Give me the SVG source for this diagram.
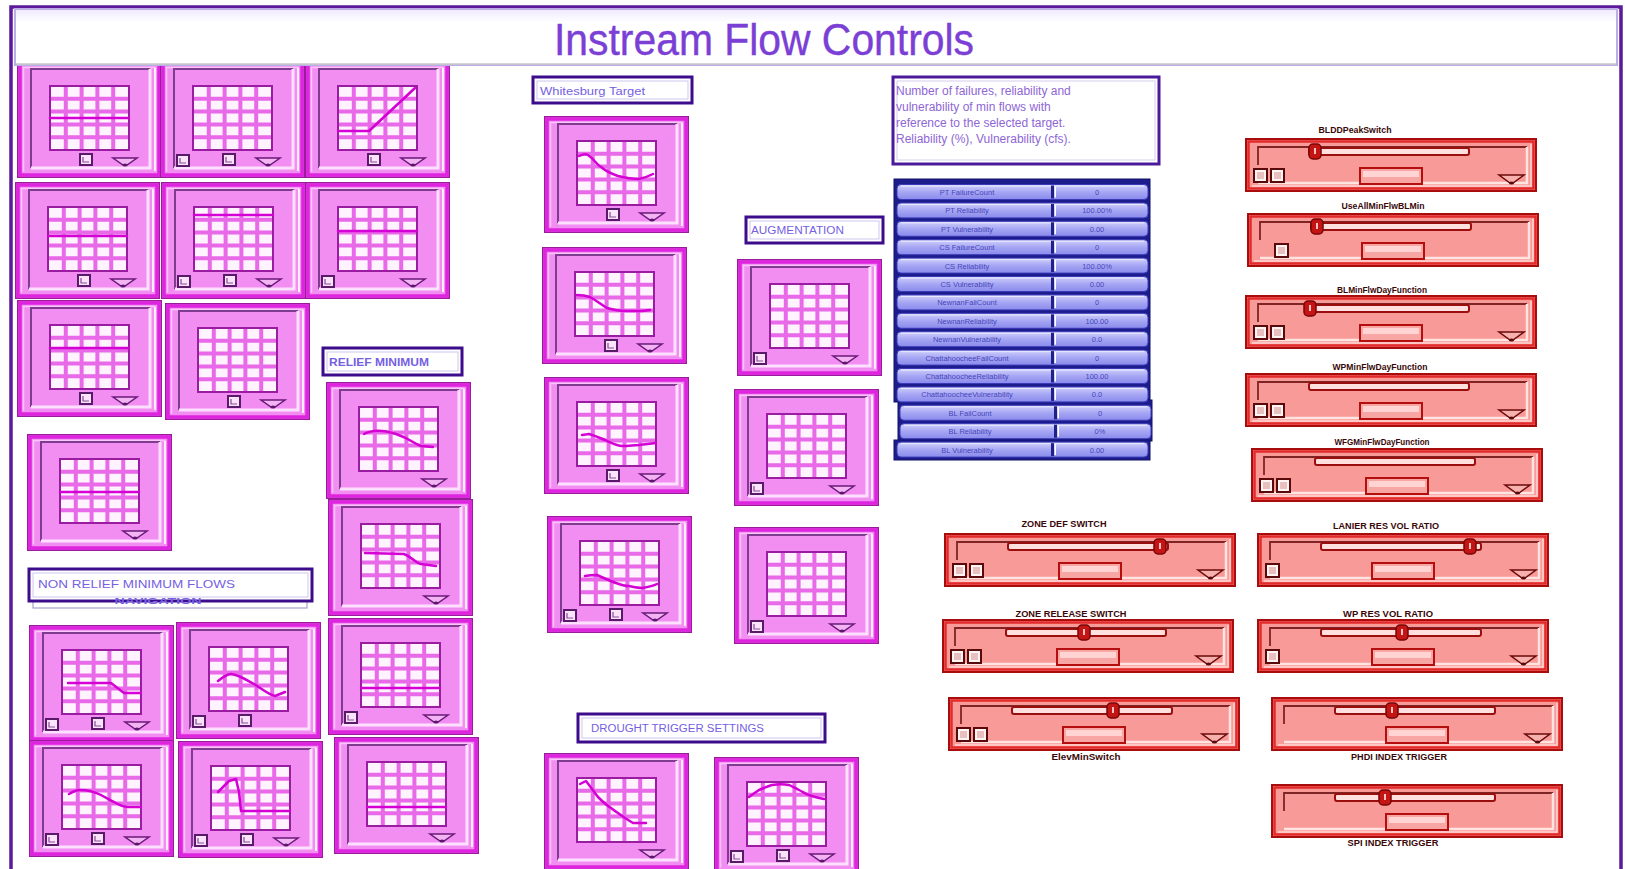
<svg xmlns="http://www.w3.org/2000/svg" xmlns:xlink="http://www.w3.org/1999/xlink" width="1625" height="869" viewBox="0 0 1625 869">
<style>
  .pl { fill: none; stroke: #d400d4; stroke-width: 2.5; stroke-linejoin: round; stroke-linecap: round; }
  .lbox { fill: #ffffff; stroke: #3c0c8c; stroke-width: 3; }
  .lin { fill: none; stroke: #cfc6ec; stroke-width: 1; }
  .ltxt { font-family: "Liberation Sans", Arial, sans-serif; fill: #7560e2; }
  .note { font-family: "Liberation Sans", Arial, sans-serif; font-size: 12px; fill: #8e66d6; }
  .rtxt { font-family: "Liberation Sans", Arial, sans-serif; font-size: 7.5px; fill: #2a2aa8; fill-opacity: 0.8; text-anchor: middle; }
  .slbl { font-family: "Liberation Sans", Arial, sans-serif; font-size: 9px; font-weight: bold; fill: #3a0808; text-anchor: middle; }
</style>
<defs>
  <linearGradient id="rowg" x1="0" y1="0" x2="0" y2="1">
    <stop offset="0" stop-color="#d2d2fc"/>
    <stop offset="0.5" stop-color="#a6a6f4"/>
    <stop offset="1" stop-color="#8a8aec"/>
  </linearGradient>
  <linearGradient id="titleg" x1="0" y1="0" x2="0" y2="1">
    <stop offset="0" stop-color="#efeaff"/>
    <stop offset="0.25" stop-color="#ffffff"/>
    <stop offset="1" stop-color="#ffffff"/>
  </linearGradient>

  <!-- pink chart control: frame and 5x5 grid -->
  <g id="gw">
    <rect x="0.75" y="0.75" width="143.5" height="115.5" fill="#f28ef2" stroke="#9a1c9a" stroke-width="1.5"/>
    <rect x="3" y="3" width="139" height="111" fill="none" stroke="#de24de" stroke-width="3.5"/>
    <path d="M6.5,110.5 V6.5 H138.5" fill="none" stroke="#fbc4fb" stroke-width="1.5"/>
    <path d="M14,107 V8 H133" fill="none" stroke="#7e3c8e" stroke-width="2"/>
    <path d="M133,8 V107 H14" fill="none" stroke="#fde0fd" stroke-width="3"/>
    <path d="M138,7 V110" fill="none" stroke="#ffeeff" stroke-width="2"/>
    <rect x="33" y="25" width="79" height="64" fill="#fff3ff"/>
    <path d="M48.8,25 V89 M64.6,25 V89 M80.4,25 V89 M96.2,25 V89 M33,37.8 H112 M33,50.6 H112 M33,63.4 H112 M33,76.2 H112" fill="none" stroke="#e86ae8" stroke-width="4"/>
    <rect x="33" y="25" width="79" height="64" fill="none" stroke="#9a1ca0" stroke-width="2"/>
  </g>
  <!-- small push button of a chart control -->
  <g id="pb">
    <rect x="0" y="0" width="12" height="11" fill="#fbe4fb" stroke="#5a1a6a" stroke-width="2"/>
    <path d="M3,3 V8 H9" fill="none" stroke="#8a4a9a" stroke-width="1.2"/>
  </g>
  <!-- drop-down arrow of a chart control -->
  <g id="pt">
    <polygon points="96,97 120,97 110,104 106,104" fill="#f4b4f4" stroke="#6a1a7a" stroke-width="1.5"/>
    <ellipse cx="108" cy="104" rx="2.5" ry="1.5" fill="#5a1a6a"/>
  </g>
  <use id="bl" xlink:href="#pb" href="#pb" transform="translate(17,94)"/>
  <use id="bm" xlink:href="#pb" href="#pb" transform="translate(63,93)"/>

  <!-- red slider control -->
  <g id="sl">
    <rect x="1" y="1" width="290" height="52" fill="#f89a98" stroke="#a80c0c" stroke-width="2"/>
    <rect x="3.5" y="3.5" width="285" height="47" fill="none" stroke="#e22a2a" stroke-width="2.5"/>
    <path d="M7,48 H286 V6" fill="none" stroke="#ffd6d4" stroke-width="1.5"/>
    <path d="M13,27 V9 H282" fill="none" stroke="#7e2424" stroke-width="1.8"/>
    <path d="M282,9 V45 H13" fill="none" stroke="#ffe4e2" stroke-width="2.5"/>
    <rect x="64" y="10" width="160" height="7" rx="2" fill="#ffe0de" stroke="#9a0e0e" stroke-width="2"/>
    <rect x="115" y="30" width="62" height="16" fill="#f7a6a4" stroke="#b40e0e" stroke-width="2"/>
    <rect x="118" y="33" width="56" height="6" fill="#ffd4d2"/>
  </g>
  <g id="th">
    <rect x="-6" y="6" width="12" height="15" rx="4" fill="#c41414" stroke="#780606" stroke-width="1.5"/>
    <rect x="-1" y="10" width="2" height="6" fill="#ffc0c0"/>
  </g>
  <g id="sb">
    <rect x="0" y="0" width="13" height="13" fill="#fff4f4" stroke="#5a0a0a" stroke-width="2"/>
    <rect x="3" y="3" width="7" height="7" fill="#e8c0c0"/>
  </g>
  <g id="st">
    <polygon points="254,37 279,37 268,45 265,45" fill="#f6b0ae" stroke="#6a0a0a" stroke-width="1.5"/>
    <ellipse cx="266.5" cy="45" rx="2.5" ry="1.5" fill="#5a0a0a"/>
  </g>

  <!-- result table row -->
  <g id="row">
    <rect x="0" y="0" width="251" height="15" rx="4" fill="url(#rowg)" stroke="#3a3ab8" stroke-width="1"/>
    <path d="M4,1.6 H247" stroke="#ffffff" stroke-opacity="0.6" stroke-width="1"/>
    <rect x="154" y="1" width="3" height="13" fill="#20208a"/>
    <rect x="157.5" y="2" width="1.5" height="11" fill="#ffffff"/>
  </g>
</defs>

<rect x="0" y="0" width="1625" height="869" fill="#ffffff"/>

<!-- panel outline -->
<path id="panel" d="M11,869 V7 H1621 V869" fill="none" stroke="#5a1a9a" stroke-width="3.5"/>

<!-- chart controls -->
<g id="w1" transform="translate(17,61)"><use href="#gw"/><path class="pl" d="M33,57 H112"/><use href="#bm"/><use href="#pt"/></g>
<g id="w2" transform="translate(160,61)"><use href="#gw"/><use href="#bl"/><use href="#bm"/><use href="#pt"/></g>
<g id="w3" transform="translate(305,61)"><use href="#gw"/><path class="pl" d="M33,70 H64 L110,27"/><use href="#bm"/><use href="#pt"/></g>
<g id="w4" transform="translate(15,182)"><use href="#gw"/><path class="pl" d="M33,54 H112"/><use href="#bm"/><use href="#pt"/></g>
<g id="w5" transform="translate(161,182)"><use href="#gw"/><path class="pl" d="M33,33 H112"/><use href="#bl"/><use href="#bm"/><use href="#pt"/></g>
<g id="w6" transform="translate(305,182)"><use href="#gw"/><path class="pl" d="M33,49 H112"/><use href="#bl"/><use href="#pt"/></g>
<g id="w7" transform="translate(17,300)"><use href="#gw"/><path class="pl" d="M33,48 H112"/><use href="#bm"/><use href="#pt"/></g>
<g id="w8" transform="translate(165,303)"><use href="#gw"/><use href="#bm"/><use href="#pt"/></g>
<g id="w9" transform="translate(326,382)"><use href="#gw"/><path class="pl" d="M38,52 C45,48 55,47 70,52 S88,62 95,64 L107,65"/><use href="#pt"/></g>
<g id="w10" transform="translate(27,434)"><use href="#gw"/><path class="pl" d="M33,58 H112"/><use href="#pt"/></g>
<g id="w11" transform="translate(328,499)"><use href="#gw"/><path class="pl" d="M37,54 L76,55 C84,58 88,64 93,65 L108,67"/><use href="#pt"/></g>
<g id="w12" transform="translate(29,625)"><use href="#gw"/><path class="pl" d="M39,58 H82 L95,68 H112"/><use href="#bl"/><use href="#bm"/><use href="#pt"/></g>
<g id="w13" transform="translate(176,622)"><use href="#gw"/><path class="pl" d="M42,59 C47,55 51,52 55,52 C64,53 70,58 78,62 C86,67 93,73 99,74 L109,70"/><use href="#bl"/><use href="#bm"/></g>
<g id="w14" transform="translate(328,618)"><use href="#gw"/><path class="pl" d="M33,70 H112"/><use href="#bl"/><use href="#pt"/></g>
<g id="w15" transform="translate(29,740)"><use href="#gw"/><path class="pl" d="M40,54 C45,51 48,50 51,50 C60,50 66,52 72,55 C78,58 82,61 85,62 C90,65 95,67 99,67 H112"/><use href="#bl"/><use href="#bm"/><use href="#pt"/></g>
<g id="w16" transform="translate(178,741)"><use href="#gw"/><path class="pl" d="M40,51 L51,40 L58,38 L61,51 L63,70 H112"/><use href="#bl"/><use href="#bm"/><use href="#pt"/></g>
<g id="w17" transform="translate(334,737)"><use href="#gw"/><path class="pl" d="M33,70 H112"/><use href="#pt"/></g>
<g id="w18" transform="translate(544,116)"><use href="#gw"/><path class="pl" d="M35,40 C39,38 42,38 44,39 C50,43 52,48 57,51 C63,56 68,58 74,60 C82,62 90,63 95,63 C100,62 105,60 109,58"/><use href="#bm"/><use href="#pt"/></g>
<g id="w19" transform="translate(542,247)"><use href="#gw"/><path class="pl" d="M35,48 C42,48 45,49 48,50 C55,54 60,58 65,61 C72,63 78,64 84,64 H100 L108,63"/><use href="#bm"/><use href="#pt"/></g>
<g id="w20" transform="translate(737,259)"><use href="#gw"/><use href="#bl"/><use href="#pt"/></g>
<g id="w21" transform="translate(544,377)"><use href="#gw"/><path class="pl" d="M38,58 L45,57 C52,59 56,61 61,63 C68,66 73,69 78,69 C85,69 90,68 95,68 L112,66"/><use href="#bm"/><use href="#pt"/></g>
<g id="w22" transform="translate(734,389)"><use href="#gw"/><use href="#bl"/><use href="#pt"/></g>
<g id="w23" transform="translate(547,516)"><use href="#gw"/><path class="pl" d="M38,60 C43,59 46,59 50,59 C57,62 63,65 69,67 C74,69 78,70 82,70 C87,71 91,72 95,72 C101,71 106,70 110,68"/><use href="#bl"/><use href="#bm"/><use href="#pt"/></g>
<g id="w24" transform="translate(734,527)"><use href="#gw"/><use href="#bl"/><use href="#pt"/></g>
<g id="w25" transform="translate(544,753)"><use href="#gw"/><path class="pl" d="M36,31 L42,28 C46,33 50,39 54,44 C58,48 62,52 67,55 C72,59 77,62 81,65 L89,70 H102"/><use href="#pt"/></g>
<g id="w26" transform="translate(714,757)"><use href="#gw"/><path class="pl" d="M35,40 C39,37 42,35 45,33 C50,31 54,29 58,28 C64,27 70,27 75,28 C79,30 82,31 85,33 C89,35 92,37 95,38 C100,40 105,41 110,42"/><use href="#bl"/><use href="#bm"/><use href="#pt"/></g>

<!-- heading bar -->
<g id="title">
  <rect x="15" y="9" width="1602" height="56" fill="url(#titleg)" stroke="#bcaee4" stroke-width="2"/>
  <path d="M16,64 H1616" stroke="#c8c8cc" stroke-width="1.5"/>
  <text x="554" y="55" font-family="'Liberation Sans', Arial, sans-serif" font-size="44" fill="#7b3fd6" stroke="#7b3fd6" stroke-width="0.4" textLength="420" lengthAdjust="spacingAndGlyphs">Instream Flow Controls</text>
</g>

<!-- section labels -->
<g id="lbl-whitesburg">
  <rect class="lbox" x="533" y="77" width="159" height="26"/>
  <rect class="lin" x="537" y="81" width="151" height="18"/>
  <text class="ltxt" x="540" y="95" font-size="11" textLength="105" lengthAdjust="spacingAndGlyphs">Whitesburg Target</text>
</g>
<g id="lbl-augmentation">
  <rect class="lbox" x="746" y="217" width="137" height="26"/>
  <rect class="lin" x="750" y="221" width="129" height="18"/>
  <text class="ltxt" x="751" y="234" font-size="10" textLength="93" lengthAdjust="spacingAndGlyphs">AUGMENTATION</text>
</g>
<g id="lbl-relief">
  <rect class="lbox" x="323" y="348" width="139" height="27"/>
  <rect class="lin" x="327" y="352" width="131" height="19"/>
  <text class="ltxt" x="329" y="366" font-size="10" font-weight="bold" textLength="100" lengthAdjust="spacingAndGlyphs">RELIEF MINIMUM</text>
</g>
<g id="lbl-drought">
  <rect class="lbox" x="578" y="714" width="247" height="28"/>
  <rect class="lin" x="582" y="718" width="239" height="20"/>
  <text class="ltxt" x="591" y="732" font-size="10" textLength="173" lengthAdjust="spacingAndGlyphs">DROUGHT TRIGGER SETTINGS</text>
</g>
<g id="lbl-nonrelief">
  <rect x="33" y="573" width="274" height="35" fill="#ffffff" stroke="#a8a2c8" stroke-width="1.2"/>
  <rect class="lbox" x="29" y="569" width="283" height="32"/>
  <rect class="lin" x="33" y="573" width="275" height="24"/>
  <text class="ltxt" x="38" y="588" font-size="11" textLength="197" lengthAdjust="spacingAndGlyphs">NON RELIEF MINIMUM FLOWS</text>
  <text class="ltxt" x="158" y="604" font-size="9.5" font-weight="bold" fill="#5e46e0" text-anchor="middle" textLength="87" lengthAdjust="spacingAndGlyphs">NAVIGATION</text>
</g>

<!-- explanatory note -->
<g id="note">
  <rect x="893" y="77" width="266" height="87" fill="#ffffff" stroke="#4a1a9a" stroke-width="3"/>
  <rect x="897" y="81" width="258" height="79" fill="none" stroke="#d6ceee" stroke-width="1"/>
  <text class="note" x="896" y="95">Number of failures, reliability and</text>
  <text class="note" x="896" y="111">vulnerability of min flows with</text>
  <text class="note" x="896" y="127">reference to the selected target.</text>
  <text class="note" x="896" y="143">Reliability (%),  Vulnerability (cfs).</text>
</g>

<!-- failure / reliability / vulnerability table -->
<g id="table">
  <rect x="894" y="179" width="256" height="223" fill="#1c1c8c" stroke="#10106a" stroke-width="1"/>
  <rect x="898" y="400" width="254" height="41" fill="#1c1c8c" stroke="#10106a" stroke-width="1"/>
  <rect x="894" y="440" width="256" height="20" fill="#1c1c8c" stroke="#10106a" stroke-width="1"/>
  <g transform="translate(897,184.5)"><use href="#row"/><text class="rtxt" x="70" y="10.5">PT FailureCount</text><text class="rtxt" x="200" y="10.5">0</text></g>
  <g transform="translate(897,202.9)"><use href="#row"/><text class="rtxt" x="70" y="10.5">PT Reliability</text><text class="rtxt" x="200" y="10.5">100.00%</text></g>
  <g transform="translate(897,221.3)"><use href="#row"/><text class="rtxt" x="70" y="10.5">PT Vulnerability</text><text class="rtxt" x="200" y="10.5">0.00</text></g>
  <g transform="translate(897,239.7)"><use href="#row"/><text class="rtxt" x="70" y="10.5">CS FailureCount</text><text class="rtxt" x="200" y="10.5">0</text></g>
  <g transform="translate(897,258.1)"><use href="#row"/><text class="rtxt" x="70" y="10.5">CS Reliability</text><text class="rtxt" x="200" y="10.5">100.00%</text></g>
  <g transform="translate(897,276.5)"><use href="#row"/><text class="rtxt" x="70" y="10.5">CS Vulnerability</text><text class="rtxt" x="200" y="10.5">0.00</text></g>
  <g transform="translate(897,294.9)"><use href="#row"/><text class="rtxt" x="70" y="10.5">NewnanFailCount</text><text class="rtxt" x="200" y="10.5">0</text></g>
  <g transform="translate(897,313.3)"><use href="#row"/><text class="rtxt" x="70" y="10.5">NewnanReliability</text><text class="rtxt" x="200" y="10.5">100.00</text></g>
  <g transform="translate(897,331.7)"><use href="#row"/><text class="rtxt" x="70" y="10.5">NewnanVulnerability</text><text class="rtxt" x="200" y="10.5">0.0</text></g>
  <g transform="translate(897,350.1)"><use href="#row"/><text class="rtxt" x="70" y="10.5">ChattahoocheeFailCount</text><text class="rtxt" x="200" y="10.5">0</text></g>
  <g transform="translate(897,368.5)"><use href="#row"/><text class="rtxt" x="70" y="10.5">ChattahoocheeReliability</text><text class="rtxt" x="200" y="10.5">100.00</text></g>
  <g transform="translate(897,386.9)"><use href="#row"/><text class="rtxt" x="70" y="10.5">ChattahoocheeVulnerability</text><text class="rtxt" x="200" y="10.5">0.0</text></g>
  <g transform="translate(900,405.3)"><use href="#row"/><text class="rtxt" x="70" y="10.5">BL FailCount</text><text class="rtxt" x="200" y="10.5">0</text></g>
  <g transform="translate(900,423.7)"><use href="#row"/><text class="rtxt" x="70" y="10.5">BL Reliability</text><text class="rtxt" x="200" y="10.5">0%</text></g>
  <g transform="translate(897,442.1)"><use href="#row"/><text class="rtxt" x="70" y="10.5">BL Vulnerability</text><text class="rtxt" x="200" y="10.5">0.00</text></g>
</g>

<!-- slider controls -->
<g id="s1"><text class="slbl" x="1355" y="133" textLength="73" lengthAdjust="spacingAndGlyphs">BLDDPeakSwitch</text>
  <g transform="translate(1245,138)"><use href="#sl"/><use href="#th" transform="translate(70,0)"/><use href="#sb" transform="translate(9,31)"/><use href="#sb" transform="translate(26,31)"/><use href="#st"/></g></g>
<g id="s2"><text class="slbl" x="1383" y="209" textLength="83" lengthAdjust="spacingAndGlyphs">UseAllMinFlwBLMin</text>
  <g transform="translate(1247,213)"><use href="#sl"/><use href="#th" transform="translate(70,0)"/><use href="#sb" transform="translate(28,31)"/></g></g>
<g id="s3"><text class="slbl" x="1382" y="293" textLength="90" lengthAdjust="spacingAndGlyphs">BLMinFlwDayFunction</text>
  <g transform="translate(1245,295)"><use href="#sl"/><use href="#th" transform="translate(65,0)"/><use href="#sb" transform="translate(9,31)"/><use href="#sb" transform="translate(26,31)"/><use href="#st"/></g></g>
<g id="s4"><text class="slbl" x="1380" y="370" textLength="95" lengthAdjust="spacingAndGlyphs">WPMinFlwDayFunction</text>
  <g transform="translate(1245,373)"><use href="#sl"/><use href="#sb" transform="translate(9,31)"/><use href="#sb" transform="translate(26,31)"/><use href="#st"/></g></g>
<g id="s5"><text class="slbl" x="1382" y="445" textLength="95" lengthAdjust="spacingAndGlyphs">WFGMinFlwDayFunction</text>
  <g transform="translate(1251,448)"><use href="#sl"/><use href="#sb" transform="translate(9,31)"/><use href="#sb" transform="translate(26,31)"/><use href="#st"/></g></g>
<g id="s6"><text class="slbl" x="1064" y="527" textLength="85" lengthAdjust="spacingAndGlyphs">ZONE DEF SWITCH</text>
  <g transform="translate(944,533)"><use href="#sl"/><use href="#th" transform="translate(216,0)"/><use href="#sb" transform="translate(9,31)"/><use href="#sb" transform="translate(26,31)"/><use href="#st"/></g></g>
<g id="s7"><text class="slbl" x="1071" y="617" textLength="111" lengthAdjust="spacingAndGlyphs">ZONE RELEASE SWITCH</text>
  <g transform="translate(942,619)"><use href="#sl"/><use href="#th" transform="translate(142,0)"/><use href="#sb" transform="translate(9,31)"/><use href="#sb" transform="translate(26,31)"/><use href="#st"/></g></g>
<g id="s8">
  <g transform="translate(948,697)"><use href="#sl"/><use href="#th" transform="translate(165,0)"/><use href="#sb" transform="translate(9,31)"/><use href="#sb" transform="translate(26,31)"/><use href="#st"/></g>
  <text class="slbl" x="1086" y="760" textLength="69" lengthAdjust="spacingAndGlyphs">ElevMinSwitch</text></g>
<g id="s9"><text class="slbl" x="1386" y="529" textLength="106" lengthAdjust="spacingAndGlyphs">LANIER RES VOL RATIO</text>
  <g transform="translate(1257,533)"><use href="#sl"/><use href="#th" transform="translate(213,0)"/><use href="#sb" transform="translate(9,31)"/><use href="#st"/></g></g>
<g id="s10"><text class="slbl" x="1388" y="617" textLength="90" lengthAdjust="spacingAndGlyphs">WP RES VOL RATIO</text>
  <g transform="translate(1257,619)"><use href="#sl"/><use href="#th" transform="translate(145,0)"/><use href="#sb" transform="translate(9,31)"/><use href="#st"/></g></g>
<g id="s11">
  <g transform="translate(1271,697)"><use href="#sl"/><use href="#th" transform="translate(121,0)"/><use href="#st"/></g>
  <text class="slbl" x="1399" y="760" textLength="96" lengthAdjust="spacingAndGlyphs">PHDI INDEX TRIGGER</text></g>
<g id="s12">
  <g transform="translate(1271,784)"><use href="#sl"/><use href="#th" transform="translate(114,0)"/></g>
  <text class="slbl" x="1393" y="846" textLength="91" lengthAdjust="spacingAndGlyphs">SPI INDEX TRIGGER</text></g>
</svg>
